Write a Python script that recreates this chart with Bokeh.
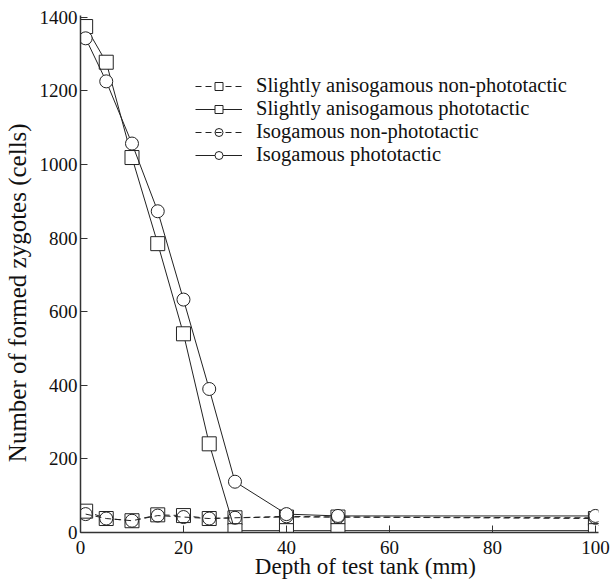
from bokeh.plotting import figure
from bokeh.models import Legend, LegendItem, Range1d, FixedTicker
from bokeh.embed import file_html
from bokeh.resources import INLINE

depth = [1, 5, 10, 15, 20, 25, 30, 40, 50, 100]
aniso_non = [58, 38, 32, 48, 46, 38, 40, 42, 42, 38]
aniso_photo = [1375, 1278, 1019, 785, 540, 241, 5, 5, 5, 5]
iso_non = [50, 38, 32, 46, 42, 38, 40, 44, 42, 40]
iso_photo = [1343, 1226, 1057, 873, 633, 390, 138, 50, 45, 45]

x_ticks = [0, 20, 40, 60, 80, 100]
y_ticks = [0, 200, 400, 600, 800, 1000, 1200, 1400]
x_title = "Depth of test tank (mm)"
y_title = "Number of formed zygotes (cells)"

FONT = "Liberation Serif"
INK = "#222222"
NB = "\u00a0"

p = figure(width=612, height=583, output_backend="svg", toolbar_location=None,
           x_range=Range1d(0, 100.6), y_range=Range1d(0, 1405),
           min_border_left=78, min_border_right=14, min_border_top=15,
           min_border_bottom=51)
p.outline_line_color = None
p.xgrid.visible = False
p.ygrid.visible = False
p.background_fill_color = "white"

for ax in (p.xaxis[0], p.yaxis[0]):
    ax.axis_line_color = "#333333"
    ax.axis_line_width = 1.5
    ax.major_tick_line_color = "#333333"
    ax.major_tick_in = 7
    ax.major_tick_out = 0
    ax.minor_tick_line_color = None
    ax.major_label_text_font = FONT
    ax.major_label_text_font_size = "19px"
    ax.major_label_text_color = "#111111"
    ax.axis_label_text_font = FONT
    ax.axis_label_text_font_style = "normal"
    ax.axis_label_text_color = "#111111"

p.xaxis.ticker = FixedTicker(ticks=x_ticks)
p.yaxis.ticker = FixedTicker(ticks=y_ticks)
# non-breaking padding nudges the titles along their axes as in the original
p.xaxis.axis_label = NB * 9 + x_title
p.yaxis.axis_label = y_title + NB * 6
p.xaxis.axis_label_text_font_size = "23px"
p.yaxis.axis_label_text_font_size = "25px"
p.xaxis.major_label_standoff = 8
p.xaxis.axis_label_standoff = -3
p.yaxis.major_label_standoff = 3
p.yaxis.axis_label_standoff = 6

msize = 14

l1 = p.line(depth, aniso_non, line_color=INK, line_width=1, line_dash="6 4")
m1 = p.scatter(depth, aniso_non, marker="square", size=msize, fill_color="white",
               line_color=INK, line_width=1)
l2 = p.line(depth, aniso_photo, line_color=INK, line_width=1)
m2 = p.scatter(depth, aniso_photo, marker="square", size=msize, fill_color="white",
               line_color=INK, line_width=1)
l3 = p.line(depth, iso_non, line_color=INK, line_width=1, line_dash="6 4")
m3 = p.scatter(depth, iso_non, marker="circle", size=msize - 1, fill_color="white",
               fill_alpha=0.0, line_color=INK, line_width=1)
l4 = p.line(depth, iso_photo, line_color=INK, line_width=1)
m4 = p.scatter(depth, iso_photo, marker="circle", size=msize - 1, fill_color="white",
               line_color=INK, line_width=1)

legend = Legend(items=[
    LegendItem(label="Slightly anisogamous non-phototactic", renderers=[l1, m1]),
    LegendItem(label="Slightly anisogamous phototactic", renderers=[l2, m2]),
    LegendItem(label="Isogamous non-phototactic", renderers=[l3, m3]),
    LegendItem(label="Isogamous phototactic", renderers=[l4, m4]),
], location=(115, 366))
legend.border_line_color = None
legend.background_fill_alpha = 0.0
legend.padding = 0
legend.margin = 0
legend.spacing = 0
legend.glyph_width = 47
legend.glyph_height = 20
legend.label_height = 20
legend.label_standoff = 14
legend.label_text_font = FONT
legend.label_text_font_size = "20.5px"
legend.label_text_color = "#111111"
legend.label_text_line_height = 1.0
p.add_layout(legend, "center")

open("out.html", "w").write(file_html(p, INLINE))
